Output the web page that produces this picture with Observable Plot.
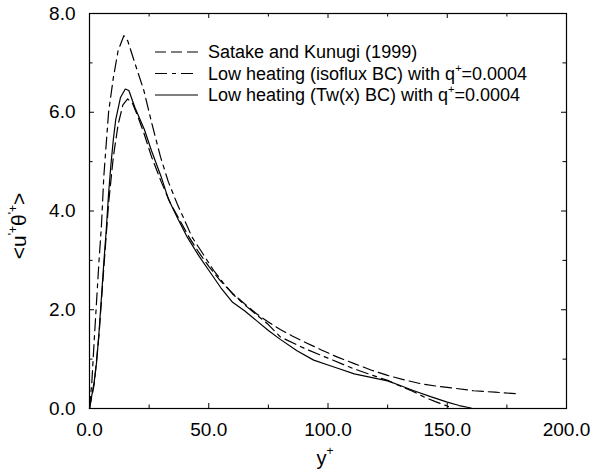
<!DOCTYPE html>
<html>
<head>
<meta charset="utf-8">
<script src="https://cdn.jsdelivr.net/npm/d3@7"></script>
<script src="https://cdn.jsdelivr.net/npm/@observablehq/plot@0.6"></script>
<style>
  html, body { margin: 0; padding: 0; background: #fff; }
  svg { display: block; }
</style>
</head>
<body>
<div id="chart"></div>
<script>
// ---- data ----
const satakeX = [0, 2, 4, 6, 8, 10, 12, 14, 16, 18, 20, 23, 26, 30, 34, 38, 42, 46, 50, 55, 60, 65, 70, 75, 80, 85, 90, 97, 104, 111, 118, 125, 132, 139, 146, 153, 161, 170, 179];
const satakeY = [0, 0.5, 1.5, 2.85, 4.15, 5.1, 5.75, 6.15, 6.27, 6.18, 5.95, 5.55, 5.1, 4.6, 4.15, 3.8, 3.45, 3.15, 2.88, 2.58, 2.33, 2.12, 1.92, 1.75, 1.6, 1.47, 1.35, 1.19, 1.04, 0.91, 0.78, 0.67, 0.58, 0.5, 0.45, 0.41, 0.36, 0.33, 0.3];

const isofluxX = [0, 1, 2, 3, 4, 5, 6, 8, 10, 12, 14.4, 16, 18, 20, 22.8, 26, 29.8, 33, 36.8, 40, 43, 48, 52, 56, 60, 65, 70, 75, 80, 90, 100, 110, 120, 125, 130, 135, 140, 145, 150, 152];
const isofluxY = [0, 0.55, 1.4, 2.2, 3.0, 3.7, 4.7, 6.0, 6.7, 7.25, 7.55, 7.45, 7.15, 6.85, 6.44, 5.8, 5.09, 4.6, 4.14, 3.8, 3.47, 3.1, 2.8, 2.55, 2.32, 2.1, 1.9, 1.7, 1.45, 1.22, 1.02, 0.82, 0.65, 0.57, 0.46, 0.36, 0.24, 0.14, 0.05, 0];

const twX = [0, 2, 3, 4, 5, 6, 7, 8, 9, 10, 11, 13, 15, 16.5, 19, 23, 26, 30, 33, 37, 41, 46, 50, 55, 60, 65, 70, 75, 80, 87, 94, 100, 105, 111, 118, 125, 130, 136, 143, 150, 155, 160];
const twY = [0, 0.55, 0.95, 1.55, 2.25, 2.95, 3.6, 4.35, 4.95, 5.45, 5.85, 6.3, 6.47, 6.44, 6.1, 5.65, 5.22, 4.7, 4.25, 3.85, 3.47, 3.08, 2.8, 2.45, 2.15, 1.98, 1.78, 1.58, 1.4, 1.17, 0.98, 0.88, 0.8, 0.7, 0.63, 0.56, 0.47, 0.36, 0.24, 0.13, 0.06, 0.01];

const xTicksMajor = [0, 50, 100, 150, 200];
const xTicksMinor = [25, 75, 125, 175];
const yTicksMajor = [0, 2, 4, 6, 8];
const yTicksMinor = [1, 3, 5, 7];

const seriesNames = ["Satake and Kunugi (1999)", "Low heating (isoflux BC) with q", "Low heating (Tw(x) BC) with q"];
const seriesSuffix = ["", "=0.0004", "=0.0004"];
const seriesDash = ["11,5", "12,5,4,5", null];

const toRows = (xs, ys) => xs.map((x, i) => ({x, y: ys[i]}));
const satake = toRows(satakeX, satakeY);
const isoflux = toRows(isofluxX, isofluxY);
const tw = toRows(twX, twY);

const W = 594, H = 472;
const ML = 89, MR = 28, MT = 13, MB = 64;
const innerW = W - ML - MR, innerH = H - MT - MB;
const majorLen = 5, minorLen = 3.5;
const FONT = "'Liberation Sans', Arial, Helvetica, sans-serif";

const fmt = d => d.toFixed(1);
const tickStyle = {stroke: "#000", strokeWidth: 1};

const chart = Plot.plot({
  width: W,
  height: H,
  marginLeft: ML,
  marginRight: MR,
  marginTop: MT,
  marginBottom: MB,
  style: {fontFamily: FONT, background: "#fff", color: "#000"},
  x: {domain: [0, 200], label: null},
  y: {domain: [0, 8], label: null},
  marks: [
    // tick labels
    Plot.axisX({anchor: "bottom", ticks: xTicksMajor, tickSize: 0, tickPadding: 14, tickFormat: fmt, fontSize: 19, label: null}),
    Plot.axisY({anchor: "left", ticks: yTicksMajor, tickSize: 0, tickPadding: 14, tickFormat: fmt, fontSize: 19, label: null}),
    // inward ticks on all four sides
    Plot.tickX(xTicksMajor, {x: d => d, insetTop: innerH - majorLen, ...tickStyle}),
    Plot.tickX(xTicksMinor, {x: d => d, insetTop: innerH - minorLen, ...tickStyle}),
    Plot.tickX(xTicksMajor, {x: d => d, insetBottom: innerH - majorLen, ...tickStyle}),
    Plot.tickX(xTicksMinor, {x: d => d, insetBottom: innerH - minorLen, ...tickStyle}),
    Plot.tickY(yTicksMajor, {y: d => d, insetRight: innerW - majorLen, ...tickStyle}),
    Plot.tickY(yTicksMinor, {y: d => d, insetRight: innerW - minorLen, ...tickStyle}),
    Plot.tickY(yTicksMajor, {y: d => d, insetLeft: innerW - majorLen, ...tickStyle}),
    Plot.tickY(yTicksMinor, {y: d => d, insetLeft: innerW - minorLen, ...tickStyle}),
    Plot.frame({stroke: "#000", strokeWidth: 1.2}),
    Plot.line(satake, {x: "x", y: "y", stroke: "#000", strokeWidth: 1.2, strokeDasharray: seriesDash[0]}),
    Plot.line(isoflux, {x: "x", y: "y", stroke: "#000", strokeWidth: 1.2, strokeDasharray: seriesDash[1]}),
    Plot.line(tw, {x: "x", y: "y", stroke: "#000", strokeWidth: 1.2})
  ]
});

document.getElementById("chart").appendChild(chart);

const svg = d3.select(chart);

// x axis title: y+
const xt = svg.append("text")
  .attr("x", 325).attr("y", 465)
  .attr("text-anchor", "middle")
  .attr("font-family", FONT).attr("font-size", 20).attr("fill", "#000");
xt.append("tspan").text("y");
xt.append("tspan").attr("dy", -10).attr("font-size", 12).text("+");

// y axis title: <u'+θ'+>
const yt = svg.append("text")
  .attr("transform", "translate(26,226) rotate(-90)")
  .attr("text-anchor", "middle")
  .attr("font-family", FONT).attr("font-size", 21).attr("fill", "#000");
yt.append("tspan").text("<u");
yt.append("tspan").attr("dy", -9).attr("font-size", 12).text("'+");
yt.append("tspan").attr("dy", 9).text("θ");
yt.append("tspan").attr("dy", -9).attr("font-size", 12).text("'+");
yt.append("tspan").attr("dy", 9).text(">");

// legend
const lg = svg.append("g").attr("font-family", FONT).attr("font-size", 18).attr("text-anchor", "start");
seriesNames.forEach((name, i) => {
  const yy = 52 + i * 21.5;
  const ln = lg.append("line")
    .attr("x1", 155).attr("x2", 198).attr("y1", yy).attr("y2", yy)
    .attr("stroke", "#000").attr("stroke-width", 1.2);
  if (seriesDash[i]) ln.attr("stroke-dasharray", seriesDash[i]);
  const t = lg.append("text").attr("x", 208).attr("y", yy + 6).attr("fill", "#000").attr("text-anchor", "start");
  t.append("tspan").text(name);
  if (seriesSuffix[i]) {
    t.append("tspan").attr("dy", -8).attr("font-size", 11).text("+");
    t.append("tspan").attr("dy", 8).text(seriesSuffix[i]);
  }
});
</script>
</body>
</html>
